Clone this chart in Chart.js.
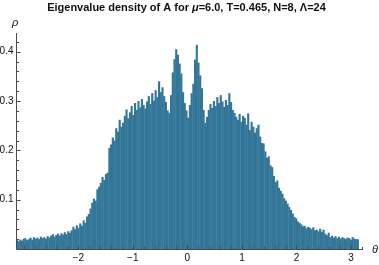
<!DOCTYPE html>
<html>
<head>
<meta charset="utf-8">
<script src="https://cdn.jsdelivr.net/npm/chart.js@4.4.0/dist/chart.umd.min.js"></script>
<style>
  html, body { margin: 0; padding: 0; background: #fff; }
  #wrap { width: 379px; height: 265px; position: relative; }
</style>
</head>
<body>
<div id="wrap"><canvas id="c"></canvas></div>
<script>
// histogram of eigenvalue angles, 200 bins over [-pi, pi]
const thetaMin = -Math.PI
const binWidth = 2 * Math.PI / 200

const density = [
  0.020, 0.016, 0.019, 0.017, 0.021, 0.022, 0.018, 0.020, 0.023, 0.019,
  0.024, 0.021, 0.023, 0.020, 0.025, 0.022, 0.024, 0.021, 0.026, 0.023,
  0.027, 0.030, 0.025, 0.028, 0.031, 0.027, 0.032, 0.029, 0.034, 0.030,
  0.036, 0.033, 0.038, 0.045, 0.040, 0.048, 0.043, 0.052, 0.047, 0.058,
  0.053, 0.066, 0.071, 0.082, 0.094, 0.102, 0.098, 0.121, 0.126, 0.134,
  0.146, 0.140, 0.152, 0.155, 0.205, 0.212, 0.226, 0.220, 0.245, 0.238,
  0.262, 0.248, 0.256, 0.270, 0.283, 0.265, 0.277, 0.290, 0.272, 0.296,
  0.282, 0.300, 0.287, 0.304, 0.292, 0.285, 0.299, 0.310, 0.294, 0.316,
  0.301, 0.322, 0.308, 0.340, 0.318, 0.328, 0.310, 0.298, 0.281, 0.276,
  0.312, 0.358, 0.385, 0.405, 0.394, 0.376, 0.356, 0.318, 0.296, 0.281,
  0.266, 0.292, 0.316, 0.335, 0.384, 0.414, 0.378, 0.352, 0.326, 0.282,
  0.256, 0.268, 0.282, 0.294, 0.286, 0.300, 0.290, 0.308, 0.296, 0.312,
  0.299, 0.288, 0.302, 0.292, 0.316, 0.298, 0.282, 0.276, 0.268, 0.262,
  0.274, 0.258, 0.270, 0.266, 0.252, 0.275, 0.241, 0.258, 0.248, 0.236,
  0.245, 0.252, 0.228, 0.215, 0.214, 0.198, 0.185, 0.188, 0.170, 0.166,
  0.148, 0.136, 0.139, 0.124, 0.118, 0.112, 0.103, 0.098, 0.092, 0.085,
  0.079, 0.072, 0.065, 0.062, 0.056, 0.053, 0.050, 0.046, 0.047, 0.042,
  0.045, 0.043, 0.040, 0.044, 0.038, 0.039, 0.036, 0.041, 0.035, 0.039,
  0.031, 0.028, 0.033, 0.024, 0.027, 0.023, 0.026, 0.022, 0.025, 0.021,
  0.024, 0.022, 0.020, 0.023, 0.022, 0.019, 0.024, 0.021, 0.020, 0.020
]

const xTickLabels = [-2, -1, 0, 1, 2, 3]
const yTickLabels = [0.1, 0.2, 0.3, 0.4]

const points = density.map((v, i) => ({ x: thetaMin + (i + 0.5) * binWidth, y: v }))

const FONT = "'Liberation Sans', Arial, sans-serif"
const AXIS = '#4a4a4a'

const mathAxes = {
  id: 'mathAxes',
  afterDraw(chart) {
    const { ctx, chartArea, scales: { x, y } } = chart
    const ax = Math.round(x.getPixelForValue(thetaMin)) + 0.5
    const ay = Math.round(y.getPixelForValue(0)) + 0.5
    ctx.save()
    ctx.strokeStyle = AXIS
    ctx.lineWidth = 1
    ctx.beginPath()
    ctx.moveTo(ax, ay); ctx.lineTo(ax, chartArea.top)
    ctx.moveTo(ax, ay); ctx.lineTo(chartArea.right, ay)
    // y ticks, inward
    for (let k = 1; k <= 21; k++) {
      const v = k * 0.02
      const py = Math.round(y.getPixelForValue(v)) + 0.5
      const len = k % 5 === 0 ? 4 : 2.5
      ctx.moveTo(ax, py); ctx.lineTo(ax + len, py)
    }
    // x ticks, inward
    for (let k = -15; k <= 16; k++) {
      const t = k * 0.2
      const px = Math.round(x.getPixelForValue(t)) + 0.5
      const len = k % 5 === 0 ? 4 : 2.5
      ctx.moveTo(px, ay); ctx.lineTo(px, ay - len)
    }
    ctx.stroke()

    ctx.fillStyle = '#111'
    ctx.font = `10px ${FONT}`
    ctx.textAlign = 'right'
    ctx.textBaseline = 'middle'
    yTickLabels.forEach(v => ctx.fillText(v.toFixed(1), ax - 3, y.getPixelForValue(v)))
    ctx.textAlign = 'center'
    ctx.textBaseline = 'top'
    xTickLabels.forEach(t => ctx.fillText(t < 0 ? '\u2212' + (-t) : String(t), x.getPixelForValue(t), ay + 4))

    // axis names
    ctx.font = `italic 11px ${FONT}`
    ctx.textAlign = 'left'
    ctx.textBaseline = 'middle'
    ctx.fillText('\u03c1', 12, 23)
    ctx.fillText('\u03b8', 372, ay)

    // title with italic mu
    const parts = [
      ['Eigenvalue density of A for ', `bold 11px ${FONT}`],
      ['\u03bc', `bold italic 11px ${FONT}`],
      ['=6.0, T=0.465, N=8, \u039b=24', `bold 11px ${FONT}`]
    ]
    let total = 0
    parts.forEach(p => { ctx.font = p[1]; total += ctx.measureText(p[0]).width })
    let cx = 186.5 - total / 2
    ctx.textBaseline = 'middle'
    parts.forEach(p => { ctx.font = p[1]; ctx.fillText(p[0], cx, 8); cx += ctx.measureText(p[0]).width })
    ctx.restore()
  }
}

new Chart(document.getElementById('c'), {
  type: 'bar',
  data: {
    datasets: [{
      data: points,
      backgroundColor: '#337698',
      borderWidth: 0,
      inflateAmount: 0,
      barPercentage: 1.25,
      categoryPercentage: 1
    }]
  },
  options: {
    responsive: true,
    maintainAspectRatio: false,
    animation: false,
    layout: { padding: { left: 16, right: 16, top: 33, bottom: 16 } },
    plugins: { legend: { display: false }, tooltip: { enabled: false }, title: { display: false } },
    scales: {
      x: { type: 'linear', min: thetaMin, max: 3.22, offset: false, display: false },
      y: { min: 0, max: 0.438, display: false }
    }
  },
  plugins: [mathAxes]
})
</script>
</body>
</html>
